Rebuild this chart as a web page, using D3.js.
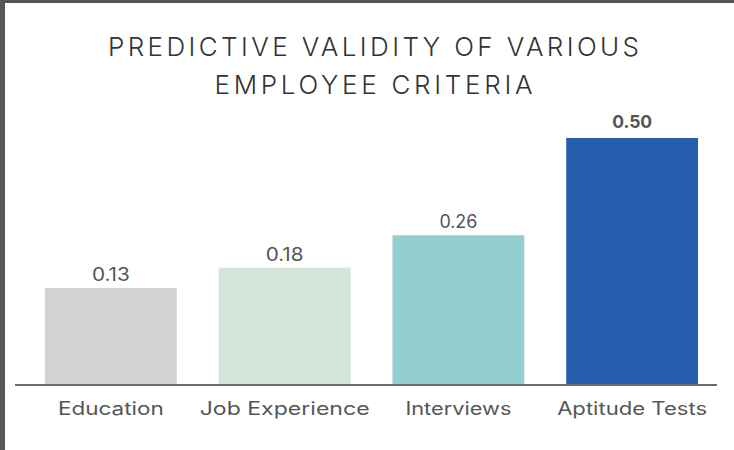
<!DOCTYPE html>
<html>
<head>
<meta charset="utf-8">
<script src="https://cdn.jsdelivr.net/npm/d3@7"></script>
<style>
  html, body { margin: 0; padding: 0; background: #fff; }
  svg { display: block; }
</style>
</head>
<body>
<svg id="chart" width="734" height="450"></svg>
<script>
const titleLines = ["PREDICTIVE VALIDITY OF VARIOUS", "EMPLOYEE CRITERIA"];
const categories = ["Education", "Job Experience", "Interviews", "Aptitude Tests"];
const values = [0.13, 0.18, 0.26, 0.50];
const valueLabels = ["0.13", "0.18", "0.26", "0.50"];
const colors = ["#d1d2d4", "#d5e5dc", "#93cfcf", "#245dab"];

const W = 734, H = 450;
const FONT = "Inter, 'Open Sans', sans-serif";
const svg = d3.select("#chart");

// frame (left and top dark edge)
svg.append("rect").attr("x", 0).attr("y", 0).attr("width", W).attr("height", H).attr("fill", "#fff");
svg.append("rect").attr("x", 0).attr("y", 0).attr("width", 5).attr("height", H).attr("fill", "#555657");
svg.append("rect").attr("x", 0).attr("y", 0).attr("width", W).attr("height", 3).attr("fill", "#555657");

// title
const titleW = [531, 318];
svg.append("g").selectAll("text").data(titleLines).join("text")
  .attr("x", 373.5)
  .attr("y", (d, i) => 56 + i * 38)
  .attr("text-anchor", "middle")
  .attr("font-family", FONT)
  .attr("font-weight", 300)
  .attr("font-size", 26)
  .attr("fill", "#333")
  .attr("textLength", (d, i) => titleW[i])
  .attr("lengthAdjust", "spacing")
  .text(d => d);

const baseY = 384;
const x = d3.scaleBand().domain(categories).range([24, 719]).paddingInner(0.2414).paddingOuter(0.1207);
const y = d3.scaleLinear().domain([-0.107, 0.5]).range([baseY, 138]);

const data = categories.map((c, i) => ({ c, v: values[i], label: valueLabels[i], color: colors[i] }));

svg.append("g").selectAll("rect").data(data).join("rect")
  .attr("x", d => x(d.c))
  .attr("y", d => y(d.v))
  .attr("width", x.bandwidth())
  .attr("height", d => baseY - y(d.v))
  .attr("fill", d => d.color);

// baseline
svg.append("line")
  .attr("x1", 15).attr("x2", 717)
  .attr("y1", baseY + 1).attr("y2", baseY + 1)
  .attr("stroke", "#6a6b6c").attr("stroke-width", 2);

// value labels
const valW = [38, 38, 38, 40];
svg.append("g").selectAll("text").data(data).join("text")
  .attr("x", d => x(d.c) + x.bandwidth() / 2)
  .attr("y", (d, i) => y(d.v) - (i === 3 ? 10 : 7))
  .attr("text-anchor", "middle")
  .attr("font-family", FONT)
  .attr("font-weight", (d, i) => i === 3 ? 700 : 400)
  .attr("font-size", 18)
  .attr("fill", "#555")
  .attr("textLength", (d, i) => valW[i])
  .attr("lengthAdjust", "spacingAndGlyphs")
  .text(d => d.label);

// category labels
const catW = [106, 170, 106, 150];
svg.append("g").selectAll("text").data(data).join("text")
  .attr("x", d => x(d.c) + x.bandwidth() / 2)
  .attr("y", 415)
  .attr("text-anchor", "middle")
  .attr("font-family", FONT)
  .attr("font-weight", 400)
  .attr("font-size", 18)
  .attr("fill", "#555657")
  .attr("textLength", (d, i) => catW[i])
  .attr("lengthAdjust", "spacingAndGlyphs")
  .text(d => d.c);
</script>
</body>
</html>
